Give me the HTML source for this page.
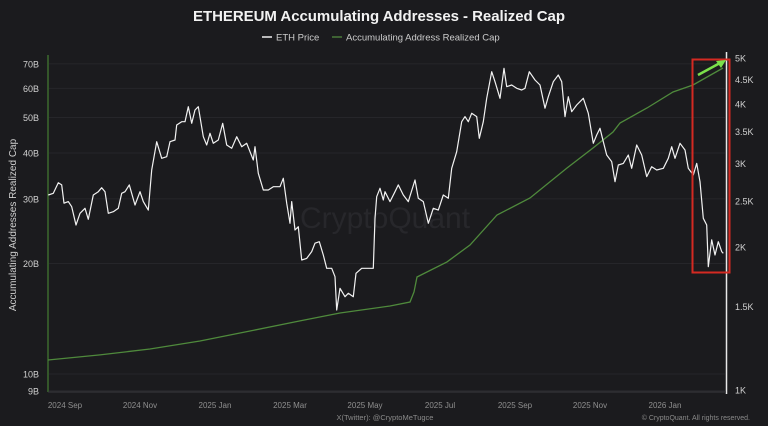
<!DOCTYPE html>
<html><head><meta charset="utf-8">
<style>
html,body{margin:0;padding:0;background:#1b1b1e;}
body{width:768px;height:426px;overflow:hidden;font-family:"Liberation Sans",sans-serif;}
svg{display:block}
</style></head>
<body>
<svg id="chart" width="768" height="426" xmlns="http://www.w3.org/2000/svg">
<rect width="768" height="426" fill="#1b1b1e"/>
<text x="379" y="21" text-anchor="middle" fill="#f2f2f2" font-size="15" font-weight="bold" textLength="372">ETHEREUM Accumulating Addresses - Realized Cap</text>
<g>
 <g>
  <line x1="262" y1="37" x2="272" y2="37" stroke="#eee" stroke-width="1.5"/>
  <text x="276" y="40.5" fill="#ccc" font-size="9.5">ETH Price</text>
 </g>
 <g>
  <line x1="332" y1="37" x2="342" y2="37" stroke="#4a7a3a" stroke-width="1.5"/>
  <text x="346" y="40.5" fill="#ccc" font-size="9.5">Accumulating Address Realized Cap</text>
 </g>
</g>
<text x="385" y="228" text-anchor="middle" fill="#27272b" font-size="30">CryptoQuant</text>
<g id="grid"></g>
<g id="axes"></g>
<g id="series"></g>
<text transform="translate(16,225) rotate(-90)" text-anchor="middle" fill="#cfcfcf" font-size="10">Accumulating Addresses Realized Cap</text>
<rect x="692.5" y="59.5" width="37" height="213" fill="none" stroke="#d42a22" stroke-width="2"/>
<g>
 <line x1="698" y1="75" x2="720" y2="63" stroke="#7be04a" stroke-width="2.5"/>
 <polygon points="726,60 716,61 721,68" fill="#7be04a"/>
</g>
<text x="385" y="420" text-anchor="middle" fill="#8a8a8a" font-size="7.5">X(Twitter): @CryptoMeTugce</text>
<text x="750" y="420" text-anchor="end" fill="#8a8a8a" font-size="7">© CryptoQuant. All rights reserved.</text>
</svg>
<script>
const priceMonths=[0.590,0.720,0.851,0.940,1.000,1.112,1.201,1.314,1.418,1.549,1.635,1.766,1.897,1.986,2.072,2.158,2.289,2.420,2.508,2.595,2.707,2.856,2.987,3.073,3.204,3.293,3.424,3.554,3.685,3.771,3.902,3.946,4.077,4.163,4.250,4.339,4.425,4.511,4.642,4.731,4.817,4.903,5.034,5.149,5.254,5.384,5.515,5.646,5.776,5.949,5.994,6.080,6.210,6.341,6.472,6.647,6.733,6.822,6.909,6.953,7.039,7.126,7.214,7.345,7.476,7.562,7.675,7.779,7.868,7.999,8.085,8.129,8.216,8.346,8.433,8.563,8.634,8.783,8.955,9.086,9.131,9.175,9.261,9.348,9.392,9.523,9.654,9.740,9.871,10.001,10.177,10.263,10.394,10.524,10.655,10.786,10.916,11.047,11.136,11.267,11.397,11.484,11.570,11.659,11.790,11.858,11.962,12.051,12.182,12.268,12.399,12.503,12.574,12.705,12.835,12.966,13.052,13.165,13.314,13.444,13.575,13.661,13.792,13.923,14.012,14.098,14.184,14.273,14.404,14.577,14.707,14.838,14.927,15.013,15.099,15.188,15.319,15.405,15.492,15.622,15.753,15.842,15.973,16.103,16.234,16.365,16.495,16.668,16.799,16.888,16.974,17.105,17.235,17.322,17.453,17.541,17.628,17.714,17.803,17.845,17.933,18.020,18.106,18.195,18.236];
const priceValues=[2574,2595,2732,2702,2473,2492,2432,2225,2355,2413,2288,2574,2615,2666,2615,2355,2373,2413,2595,2615,2702,2452,2615,2492,2392,2905,3332,3074,3099,3332,3360,3614,3672,3672,3949,3644,3886,3949,3414,3280,3470,3307,3360,3644,3280,3227,3414,3252,3307,3049,3252,2859,2637,2637,2679,2679,2791,2473,2244,2492,2172,2207,1878,1893,1956,2037,2052,1924,1804,1804,1732,1474,1637,1572,1598,1572,1761,1804,1804,1804,2299,2553,2659,2512,2615,2492,2615,2702,2574,2492,2768,2533,2492,2244,2413,2392,2574,2533,2929,3175,3672,3763,3672,3825,3763,3388,3672,4113,4679,4458,4113,4757,4351,4386,4317,4281,4317,4679,4494,4386,3919,4145,4458,4605,4458,3763,4145,3854,3981,4113,3825,3307,3442,3556,3332,3124,3024,2745,2976,3000,3124,2929,3280,3124,2813,2952,2905,2929,3074,3252,3074,3307,3201,2929,2836,3000,2745,2299,2225,1818,2070,1924,2052,1956,1940];
const capMonths=[0.582,1.941,3.248,4.555,5.863,7.170,8.216,9.523,10.046,10.150,10.229,11.013,11.614,12.320,13.183,14.150,14.830,15.353,15.536,16.242,16.922,17.445,18.229];
const capValues=[10.92,11.27,11.70,12.30,13.10,13.95,14.66,15.32,15.71,16.73,18.38,20.20,22.47,27.12,30.17,36.41,41.28,45.64,48.30,53.06,58.67,61.31,68.21];
const xTickMonths=[1,3,5,7,9,11,13,15,17];
const xTickLabels=["2024 Sep","2024 Nov","2025 Jan","2025 Mar","2025 May","2025 Jul","2025 Sep","2025 Nov","2026 Jan"];
const leftTicks=[9,10,20,30,40,50,60,70];
const leftTickLabels=["9B","10B","20B","30B","40B","50B","60B","70B"];
const rightTicks=[1000,1500,2000,2500,3000,3500,4000,4500,5000];
const rightTickLabels=["1K","1.5K","2K","2.5K","3K","3.5K","4K","4.5K","5K"];

const NS="http://www.w3.org/2000/svg";
function xS(m){return 25.75+38.25*m;}
function xLabel(m){return 27.5+37.5*m;}
function yL(v){return 374-367*Math.log10(v/10);}
function yR(v){return 390-475*Math.log10(v/1000);}
function mk(tag,attrs,parent){const e=document.createElementNS(NS,tag);for(const k in attrs)e.setAttribute(k,attrs[k]);parent.appendChild(e);return e;}
const grid=document.getElementById('grid'),axes=document.getElementById('axes'),series=document.getElementById('series');
leftTicks.forEach((v,i)=>{const l=mk('line',{x1:49,x2:725,y1:yL(v),y2:yL(v),stroke:'#26262a','stroke-width':1},grid);

});
const la=mk('line',{x1:48,x2:48,y1:55,y2:392,stroke:'#3d6b2f','stroke-width':1.5},axes);


const ra=mk('line',{x1:726.5,x2:726.5,y1:52,y2:394,stroke:'#e8e8e8','stroke-width':1.5},axes);


const xa=mk('line',{x1:48,x2:726,y1:392,y2:392,stroke:'#3a3a3e','stroke-width':1},axes);


leftTicks.forEach((v,i)=>{const t=mk('text',{x:39,y:yL(v)+3.5,'text-anchor':'end',fill:'#d0d0d0','font-size':9},axes);t.textContent=leftTickLabels[i];

});
rightTicks.forEach((v,i)=>{const t=mk('text',{x:735,y:yR(v)+3.5,fill:'#d0d0d0','font-size':9},axes);t.textContent=rightTickLabels[i];

});
xTickMonths.forEach((m,i)=>{const t=mk('text',{x:xLabel(m),y:408,'text-anchor':'middle',fill:'#8f8f8f','font-size':8},axes);t.textContent=xTickLabels[i];

});
let dc='';capMonths.forEach((m,i)=>{dc+=(i?'L':'M')+xS(m).toFixed(1)+','+yL(capValues[i]).toFixed(1);});
const cp=mk('path',{d:dc,fill:'none',stroke:'#4f8a3c','stroke-width':1.3},series);


let dp='';priceMonths.forEach((m,i)=>{dp+=(i?'L':'M')+xS(m).toFixed(1)+','+yR(priceValues[i]).toFixed(1);});
const pp=mk('path',{d:dp,fill:'none',stroke:'#f2f2f2','stroke-width':1.2,'stroke-linejoin':'round'},series);


</script>
</body></html>
